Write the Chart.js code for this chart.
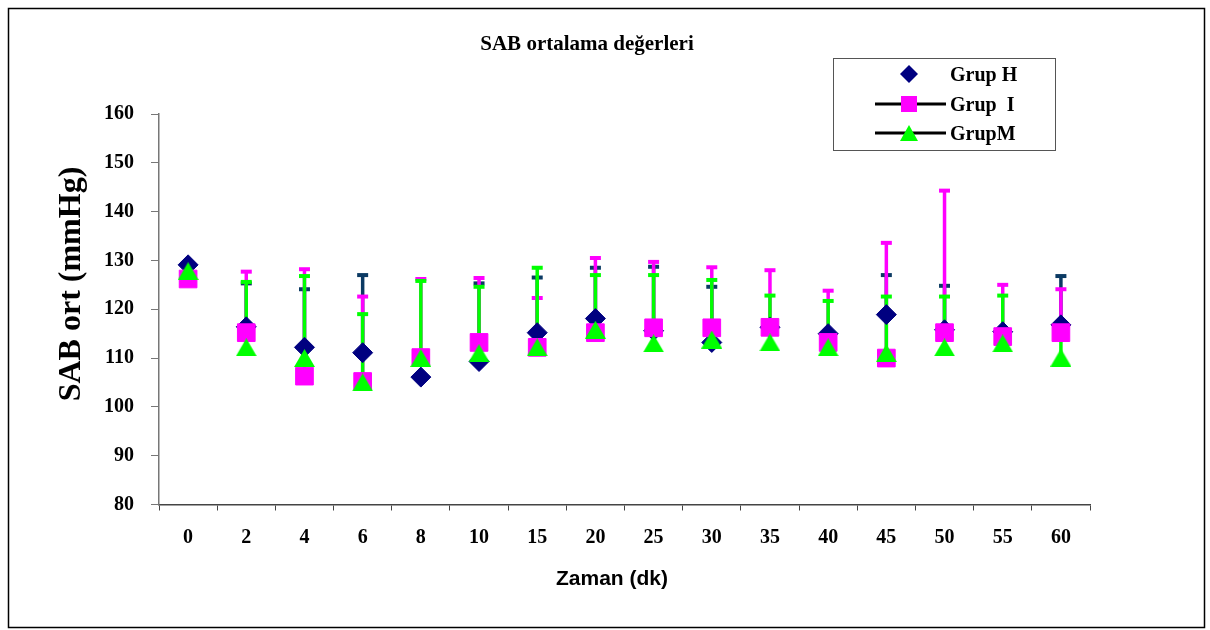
<!DOCTYPE html>
<html lang="tr">
<head>
<meta charset="UTF-8">
<title>SAB ortalama değerleri</title>
<script src="https://cdn.jsdelivr.net/npm/chart.js"></script>
<style>
  body { margin: 0; background: #fff; }
  #wrap { position: relative; width: 1210px; height: 630px; }
</style>
</head>
<body>
<div id="wrap"><canvas id="sabChart" width="1210" height="630"></canvas></div>
<script>
// time points (minutes)
const zaman = ['0', '2', '4', '6', '8', '10', '15', '20', '25', '30', '35', '40', '45', '50', '55', '60'];

// mean SAB values per group
const grupH = [129.1, 116.4, 112.2, 111.1, 106.1, 109.3, 115.2, 118.1, 115.6, 113.2, 116.3, 115.0, 118.9, 115.8, 115.4, 116.8];
const grupI = [126.2, 115.2, 106.3, 105.2, 110.1, 113.2, 112.2, 115.2, 116.2, 116.2, 116.3, 113.2, 110.0, 115.2, 114.4, 115.2];
const grupM = [127.8, 112.2, 110.0, 105.0, 110.0, 111.0, 112.2, 115.8, 113.0, 113.8, 113.2, 112.2, 111.0, 112.2, 113.0, 110.1];

// top of the error bar (mean + SD), null where none is visible
const ustH = [null, 125.3, 124.1, 127.0, null, 125.3, 126.5, 128.5, 128.7, 124.6, null, null, 127.0, 124.8, null, 126.8];
const ustI = [null, 127.7, 128.2, 122.6, 126.2, 126.4, 122.3, 130.5, 129.7, 128.6, 128.0, 123.8, 133.6, 144.3, 125.0, 124.1];
const ustM = [null, 125.6, 126.8, 119.0, 125.8, 124.6, 128.5, 127.0, 127.0, 126.0, 122.8, 121.7, 122.6, 122.6, 122.8, 115.5];

const yTicks = [80, 90, 100, 110, 120, 130, 140, 150, 160];

const serif = "'Liberation Serif', 'Times New Roman', serif";
const sans = "'Liberation Sans', Arial, sans-serif";

// Excel-like triangle: its box is centred on the value, not its centroid
function triangleImage(w, h, color) {
    const c = document.createElement('canvas');
    c.width = w;
    c.height = h;
    const g = c.getContext('2d');
    g.fillStyle = color;
    g.beginPath();
    g.moveTo(w / 2, 0);
    g.lineTo(w, h);
    g.lineTo(0, h);
    g.closePath();
    g.fill();
    return c;
}
const triM = triangleImage(21, 18, '#00ff00');

// error bars are drawn under all the markers, in series order
const errorBars = {
    id: 'errorBars',
    beforeDatasetsDraw(chart) {
        const ctx = chart.ctx;
        const x = chart.scales.x, y = chart.scales.y;
        chart.data.datasets.forEach(ds => {
            ctx.save();
            ctx.strokeStyle = ds.errorColor;
            ds.data.forEach((v, i) => {
                const top = ds.errorUpper[i];
                if (top == null) return;
                const px = x.getPixelForValue(i);
                const y0 = y.getPixelForValue(v);
                const y1 = y.getPixelForValue(top);
                ctx.lineWidth = 3.5;
                ctx.beginPath();
                ctx.moveTo(px, y0);
                ctx.lineTo(px, y1);
                ctx.stroke();
                ctx.lineWidth = 4;
                ctx.beginPath();
                ctx.moveTo(px - 5.5, y1);
                ctx.lineTo(px + 5.5, y1);
                ctx.stroke();
            });
            ctx.restore();
        });
    }
};

function marker(ctx, style, cx, cy, color) {
    ctx.fillStyle = color;
    ctx.beginPath();
    if (style === 'rectRot') {
        ctx.moveTo(cx - 9, cy);
        ctx.lineTo(cx, cy - 9);
        ctx.lineTo(cx + 9, cy);
        ctx.lineTo(cx, cy + 9);
    } else if (style === 'rect') {
        ctx.rect(cx - 8, cy - 8, 16, 16);
    } else {
        ctx.moveTo(cx, cy - 8);
        ctx.lineTo(cx + 9, cy + 8);
        ctx.lineTo(cx - 9, cy + 8);
    }
    ctx.closePath();
    ctx.fill();
}

// frame, titles and the boxed legend
const decor = {
    id: 'decor',
    afterDraw(chart) {
        const ctx = chart.ctx;
        ctx.save();
        ctx.strokeStyle = '#000';
        ctx.lineWidth = 1.5;
        ctx.strokeRect(8.5, 8.5, 1196, 619);

        ctx.fillStyle = '#000';
        ctx.textAlign = 'center';
        ctx.textBaseline = 'alphabetic';
        ctx.font = 'bold 21px ' + serif;
        ctx.fillText('SAB ortalama değerleri', 587, 50);

        ctx.font = 'bold 21px ' + sans;
        ctx.fillText('Zaman (dk)', 612, 585);

        ctx.save();
        ctx.translate(80, 284);
        ctx.rotate(-Math.PI / 2);
        ctx.font = 'bold 32px ' + serif;
        ctx.fillText('SAB ort (mmHg)', 0, 0);
        ctx.restore();

        // legend
        ctx.strokeStyle = '#555';
        ctx.lineWidth = 1;
        ctx.strokeRect(833.5, 58.5, 222, 92);
        const rows = [74, 104, 133];
        ctx.font = 'bold 20px ' + serif;
        ctx.textAlign = 'left';
        chart.data.datasets.forEach((ds, i) => {
            const cy = rows[i];
            if (ds.legendLine) {
                ctx.strokeStyle = '#000';
                ctx.lineWidth = 3;
                ctx.beginPath();
                ctx.moveTo(875, cy);
                ctx.lineTo(946, cy);
                ctx.stroke();
            }
            marker(ctx, ds.pointStyle, 909, cy, ds.backgroundColor);
            ctx.fillStyle = '#000';
            ctx.fillText(ds.label, 950, cy + 7);
        });
        ctx.restore();
    }
};

const ctx = document.getElementById('sabChart').getContext('2d');
const chart = new Chart(ctx, {
    type: 'line',
    data: {
        labels: zaman,
        datasets: [
            {
                label: 'Grup H',
                data: grupH,
                errorUpper: ustH,
                errorColor: '#0b3a63',
                legendLine: false,
                showLine: false,
                pointStyle: 'rectRot',
                pointRadius: 10,
                backgroundColor: '#000080',
                borderColor: '#000080',
                pointBorderWidth: 1,
                order: 3
            },
            {
                label: 'Grup  I',
                data: grupI,
                errorUpper: ustI,
                errorColor: '#ff00ff',
                legendLine: true,
                showLine: false,
                pointStyle: 'rect',
                pointRadius: 12.5,
                backgroundColor: '#ff00ff',
                borderColor: '#ff00ff',
                pointBorderWidth: 1,
                order: 2
            },
            {
                label: 'GrupM',
                data: grupM,
                errorUpper: ustM,
                errorColor: '#00ff00',
                legendLine: true,
                showLine: false,
                pointStyle: triM,
                pointRadius: 11.5,
                backgroundColor: '#00ff00',
                borderColor: '#00ff00',
                pointBorderWidth: 1,
                order: 1
            }
        ]
    },
    options: {
        responsive: false,
        animation: false,
        events: [],
        layout: {
            padding: { left: 0, top: 114, right: 120, bottom: 45.5 }
        },
        plugins: {
            legend: { display: false },
            tooltip: { enabled: false }
        },
        scales: {
            x: {
                offset: true,
                grid: {
                    offset: true,
                    drawOnChartArea: false,
                    tickLength: 6,
                    tickColor: '#444'
                },
                border: { color: '#444', width: 1.5 },
                ticks: {
                    color: '#000',
                    padding: 15,
                    maxRotation: 0,
                    font: { family: serif, size: 20, weight: 'bold' }
                },
                afterFit(scale) { scale.height = 80; }
            },
            y: {
                min: 80,
                max: 160,
                grid: {
                    drawOnChartArea: false,
                    tickLength: 8,
                    tickColor: '#777'
                },
                border: { color: '#777', width: 1.5 },
                afterBuildTicks(scale) {
                    scale.ticks = yTicks.map(v => ({ value: v }));
                },
                ticks: {
                    color: '#000',
                    padding: 17,
                    font: { family: serif, size: 20, weight: 'bold' }
                },
                afterFit(scale) { scale.width = 159; }
            }
        }
    },
    plugins: [errorBars, decor]
});
</script>
</body>
</html>
